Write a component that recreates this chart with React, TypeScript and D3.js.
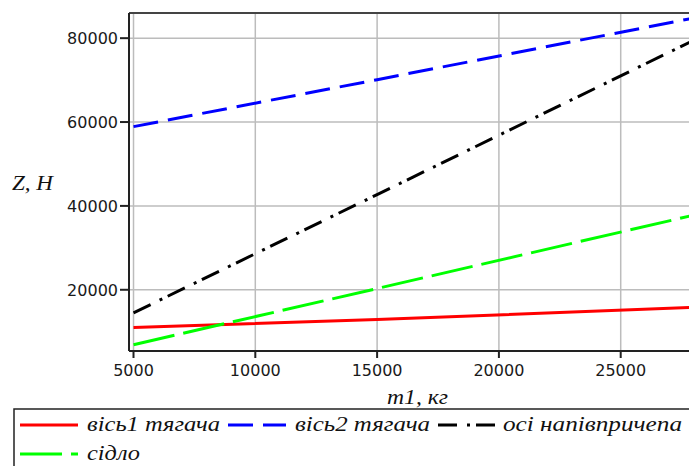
import React from "react";
import * as d3 from "d3";

// m1, кг
const m1 = [5000, 15000, 28000];
// Z, H for each load
const axle1 = [11000, 12900, 15800];
const axle2 = [58900, 70100, 84800];
const trailer = [14500, 42700, 79500];
const saddle = [6900, 20300, 37800];

const xTicks = [5000, 10000, 15000, 20000, 25000];
const yTicks = [20000, 40000, 60000, 80000];

const series = [
  { name: "вісь1 тягача", values: axle1, color: "#ff0000", dash: "", lx: 20, ly: 425, tw: 133 },
  { name: "вісь2 тягача", values: axle2, color: "#0000ff", dash: "25,10", lx: 228, ly: 425, tw: 135 },
  { name: "осі напівпричепа", values: trailer, color: "#000000", dash: "19,10,3,6", lx: 438, ly: 425, tw: 179 },
  { name: "сідло", values: saddle, color: "#00ff00", dash: "42,9", lx: 20, ly: 454, tw: 53 },
];

const W = 689;
const H = 466;
const left = 129;
const right = 698;
const top = 13;
const bottom = 351;

const App = () => {
  const x = d3.scaleLinear().domain([4815, 28173]).range([left, right]);
  const y = d3.scaleLinear().domain([5400, 86000]).range([bottom, top]);

  const line = d3
    .line<number>()
    .x((d, i) => x(m1[i]))
    .y((d) => y(d));

  const tickFont = { fontFamily: "DejaVu Sans", fontSize: 16, fill: "#1a1a1a" };
  const serif = { fontFamily: "Liberation Serif", fontStyle: "italic", fill: "#111" };

  return (
    <svg width={W} height={H} style={{ position: "absolute", left: 0, top: 0 }}>
      <rect width={W} height={H} fill="#fff" />
      <clipPath id="plot">
        <rect x={left} y={top} width={right - left} height={bottom - top} />
      </clipPath>

      {/* grid */}
      {xTicks.map((t) => (
        <line key={"gx" + t} x1={x(t)} x2={x(t)} y1={top} y2={bottom} stroke="#bcbcbc" strokeWidth={1.5} />
      ))}
      {yTicks.map((t) => (
        <line key={"gy" + t} x1={left} x2={right} y1={y(t)} y2={y(t)} stroke="#bcbcbc" strokeWidth={1.5} />
      ))}

      {/* series */}
      <g clipPath="url(#plot)">
        {series.map((s) => (
          <path
            key={s.name}
            d={line(s.values) || ""}
            fill="none"
            stroke={s.color}
            strokeWidth={3}
            strokeDasharray={s.dash}
          />
        ))}
      </g>

      {/* frame */}
      <line x1={left} x2={right} y1={top} y2={top} stroke="#444" strokeWidth={2} />
      <line x1={left} x2={left} y1={top} y2={bottom} stroke="#222" strokeWidth={2} />
      <line x1={left} x2={right} y1={bottom} y2={bottom} stroke="#222" strokeWidth={2} />

      {/* y axis */}
      {yTicks.map((t) => (
        <g key={"ty" + t}>
          <line x1={left - 9} x2={left} y1={y(t)} y2={y(t)} stroke="#222" strokeWidth={2} />
          <text x={118} y={y(t)} dy="0.36em" textAnchor="end" {...tickFont}>
            {t}
          </text>
        </g>
      ))}
      {/* x axis */}
      {xTicks.map((t) => (
        <g key={"tx" + t}>
          <line x1={x(t)} x2={x(t)} y1={bottom} y2={bottom + 7} stroke="#222" strokeWidth={2} />
          <text x={x(t)} y={376} textAnchor="middle" {...tickFont}>
            {t}
          </text>
        </g>
      ))}

      <text x={12} y={190} fontSize={20} {...serif} textLength={41} lengthAdjust="spacingAndGlyphs">
        Z, H
      </text>
      <text x={387} y={404} fontSize={20} {...serif} textLength={61} lengthAdjust="spacingAndGlyphs">
        m1, кг
      </text>

      {/* legend */}
      <rect x={14} y={409} width={700} height={70} fill="none" stroke="#222" strokeWidth={1.5} />
      {series.map((s) => (
        <g key={"lg" + s.name}>
          <line
            x1={s.lx}
            x2={s.lx + 58}
            y1={s.ly}
            y2={s.ly}
            stroke={s.color}
            strokeWidth={3}
            strokeDasharray={s.dash}
          />
          <text
            x={s.lx + (s.name === "осі напівпричепа" ? 65 : 67)}
            y={s.ly + 6}
            fontSize={20}
            {...serif}
            textLength={s.tw}
            lengthAdjust="spacingAndGlyphs"
          >
            {s.name}
          </text>
        </g>
      ))}
    </svg>
  );
};

export default App;
